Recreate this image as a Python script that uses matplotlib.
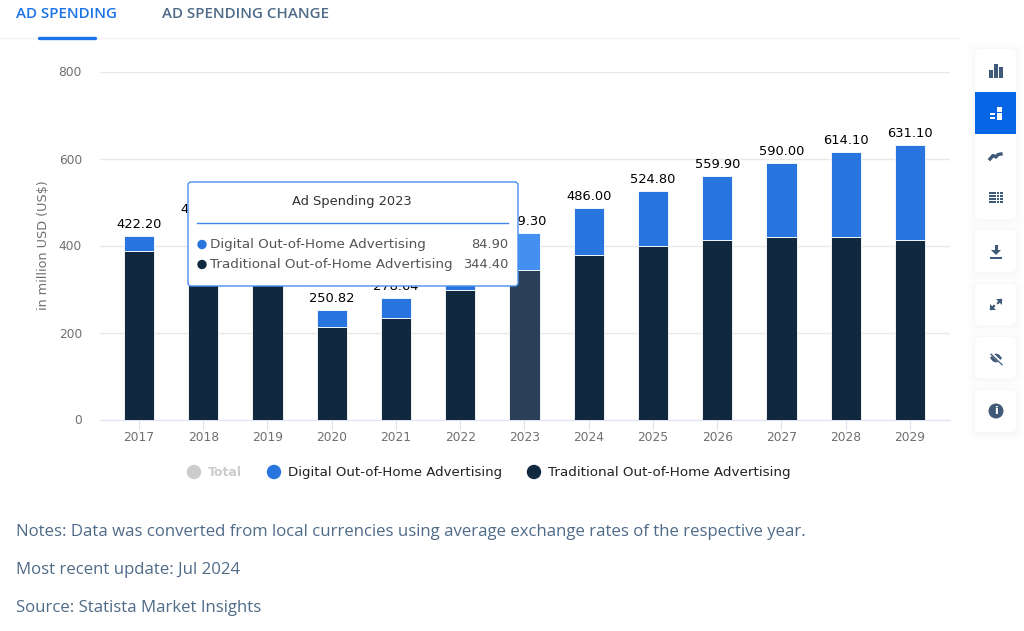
import numpy as np
import matplotlib
matplotlib.use("Agg")
import matplotlib.pyplot as plt
from matplotlib.patches import FancyBboxPatch, Rectangle, Circle, Polygon

years = ["2017", "2018", "2019", "2020", "2021", "2022", "2023", "2024", "2025", "2026", "2027", "2028", "2029"]
traditional = [388.0, 410.0, 420.0, 212.0, 234.0, 297.0, 344.4, 379.0, 400.0, 412.0, 420.0, 420.0, 412.0]
digital = [34.2, 45.0, 50.0, 38.82, 44.64, 33.0, 84.9, 107.0, 124.8, 147.9, 170.0, 194.1, 219.1]
# 2019 and 2022 totals sit fully behind the tooltip in the picture, so they have no label here
total_labels = ["422.20", "455.00", "", "250.82", "278.64", "", "429.30", "486.00",
                "524.80", "559.90", "590.00", "614.10", "631.10"]
y_ticks = [0, 200, 400, 600, 800]
highlight = "2023"

DARK = "#10293f"
BLUE = "#2975e0"
GREY = "#4f6b88"
W, H = 1024, 631

fig = plt.figure(figsize=(W / 100, H / 100), dpi=100, facecolor="white")

def px_axes(left, top, right, bottom):
    return fig.add_axes([left / W, 1 - bottom / H, (right - left) / W, (bottom - top) / H])

# chart itself
ax = px_axes(100, 71.5, 950, 419.5)
ax.set_facecolor("none")
x = np.arange(len(years))
colors_t = ["#2a4058" if y == highlight else DARK for y in years]
colors_d = ["#4390f0" if y == highlight else BLUE for y in years]
ax.bar(x, traditional, width=0.47, color=colors_t, edgecolor="white", linewidth=0.6, zorder=3)
ax.bar(x, digital, bottom=traditional, width=0.47, color=colors_d, edgecolor="white", linewidth=0.6, zorder=3)
for i in range(len(years)):
    if total_labels[i] == "":
        continue
    ax.text(x[i], traditional[i] + digital[i] + 12, total_labels[i], ha="center", va="bottom",
            fontsize=9.4, color="#000000", zorder=4)
ax.set_xlim(-0.607, 12.623)
ax.set_ylim(0, 800)
ax.set_xticks(x)
ax.set_xticklabels(years)
ax.set_yticks(y_ticks)
ax.tick_params(axis="x", length=7, color="#dde3f0", labelsize=8.8, labelcolor="#6f6f6f", pad=1)
ax.tick_params(axis="y", length=0, labelsize=8.8, labelcolor="#6f6f6f", pad=13)
ax.grid(axis="y", color="#e9e9e9", linewidth=1, zorder=0)
for s in ["top", "left", "right"]:
    ax.spines[s].set_visible(False)
ax.spines["bottom"].set_color("#dde3f0")
ax.set_ylabel("in million USD (US$)", fontsize=9.2, color="#6f6f6f", labelpad=6.5)

# page furniture, in pixel coordinates
ui = fig.add_axes([0, 0, 1, 1], zorder=5)
ui.set_xlim(0, W)
ui.set_ylim(H, 0)
ui.axis("off")

NOTE_FONT = "Open Sans"
ui.text(16, 14.5, "AD SPENDING", color="#1a73e8", fontsize=10.9, family=NOTE_FONT, va="center", weight="semibold")
ui.text(162, 14.5, "AD SPENDING CHANGE", color=GREY, fontsize=10.9, family=NOTE_FONT, va="center", weight="semibold")
ui.plot([0, 960], [37.5, 37.5], color="#f0f2f5", lw=1)
ui.plot([39, 95], [37.5, 37.5], color="#1a73e8", lw=2.4, solid_capstyle="round")

# legend
ui.add_patch(Circle((194, 472), 6.5, color="#cccccc"))
ui.text(208, 472.5, "Total", fontsize=9, color="#cccccc", va="center", weight="bold")
ui.add_patch(Circle((274, 472), 6.5, color=BLUE))
ui.text(288, 472.5, "Digital Out-of-Home Advertising", fontsize=9.6, color="#222222", va="center")
ui.add_patch(Circle((534, 472), 6.5, color=DARK))
ui.text(548, 472.5, "Traditional Out-of-Home Advertising", fontsize=9.7, color="#222222", va="center")

# notes
ui.text(16, 532, "Notes: Data was converted from local currencies using average exchange rates of the respective year.",
        fontsize=12.1, color=GREY, family=NOTE_FONT, va="center")
ui.text(16, 570, "Most recent update: Jul 2024", fontsize=12.1, color=GREY, family=NOTE_FONT, va="center")
ui.text(16, 608, "Source: Statista Market Insights", fontsize=12.1, color=GREY, family=NOTE_FONT, va="center")

# tooltip
ui.add_patch(FancyBboxPatch((188, 182), 330, 104, boxstyle="round,pad=0,rounding_size=3",
                            fc="white", ec="#4a90f0", lw=1, zorder=6))
ui.text(352, 201, "Ad Spending 2023", fontsize=9.4, color="#333333", ha="center", va="center", zorder=7)
ui.plot([197, 508], [222.5, 222.5], color="#3f86ec", lw=1, zorder=7)
ui.add_patch(Circle((202, 244.5), 4, color=BLUE, zorder=7))
ui.text(210, 244.5, "Digital Out-of-Home Advertising", fontsize=9.7, color="#555555", va="center", zorder=7)
ui.text(508, 244.5, "84.90", fontsize=9.4, color="#555555", va="center", ha="right", zorder=7)
ui.add_patch(Circle((202, 264.5), 4, color=DARK, zorder=7))
ui.text(210, 264.5, "Traditional Out-of-Home Advertising", fontsize=9.7, color="#555555", va="center", zorder=7)
ui.text(508, 264.5, "344.40", fontsize=9.4, color="#555555", va="center", ha="right", zorder=7)

# right side toolbar
ICON = "#3f5a78"
def card(top, bottom):
    for k, a in ((7, 0.008), (4, 0.012), (2, 0.016)):
        ui.add_patch(FancyBboxPatch((975 - k, top - k + 1), 41 + 2 * k, bottom - top + 2 * k,
                                    boxstyle="round,pad=0,rounding_size=6", fc="#5a6a80", ec="none", alpha=a))
    ui.add_patch(FancyBboxPatch((975, top), 41, bottom - top, boxstyle="round,pad=0,rounding_size=5",
                                fc="white", ec="none"))

card(49, 219)
card(230, 272)
card(284, 325)
card(337, 378)
card(390, 432)
ui.add_patch(Rectangle((975, 92), 41, 42, fc="#0666e5", ec="none"))

# bar chart icon
for bx, by, bh in ((989, 70, 8), (994, 64, 14), (999, 67, 11)):
    ui.add_patch(Rectangle((bx, by), 3.6, bh, fc=ICON))
# stacked icon
for bx, by, bw, bh in ((990, 112.5, 4.5, 2.6), (990, 116.5, 4.5, 2.6), (997, 107, 5, 4.5), (997, 113, 5, 6.5)):
    ui.add_patch(Rectangle((bx, by), bw, bh, fc="white"))
# line icon
ui.plot([990, 993, 996, 998, 1001], [159, 155.5, 157, 154.5, 154], color=ICON, lw=2.4)
# table icon
for row in range(4):
    for cx, cw in ((989, 6.5), (996.5, 2.6), (1000, 2.6)):
        ui.add_patch(Rectangle((cx, 192 + row * 3), cw, 2.3, fc=ICON))
# download icon
ui.add_patch(Rectangle((994.5, 245), 3, 6, fc=ICON))
ui.add_patch(Polygon([[991, 250], [1001, 250], [996, 255]], fc=ICON))
ui.add_patch(Rectangle((990, 257), 12, 2, fc=ICON))
# expand icon
ui.plot([991, 994], [309, 306], color=ICON, lw=1.6)
ui.plot([998, 1001], [303, 300], color=ICON, lw=1.6)
ui.add_patch(Polygon([[990, 304], [990, 310], [996, 310]], fc=ICON))
ui.add_patch(Polygon([[996, 299], [1002, 299], [1002, 305]], fc=ICON))
# hide icon
ui.add_patch(Polygon([[990, 358], [993, 354.5], [996, 353.5], [999, 354.5], [1002, 358],
                      [999, 361.5], [996, 362.5], [993, 361.5]], fc=ICON))
ui.plot([991, 1002], [353, 363.5], color="white", lw=2.2)
ui.plot([991, 1002], [354.2, 364.7], color=ICON, lw=0.9)
# info icon
ui.add_patch(Circle((996, 411), 7.5, fc=ICON))
ui.text(996, 411, "i", color="white", fontsize=8, weight="bold", ha="center", va="center")

fig.savefig("out.png", dpi=100, facecolor="white")
